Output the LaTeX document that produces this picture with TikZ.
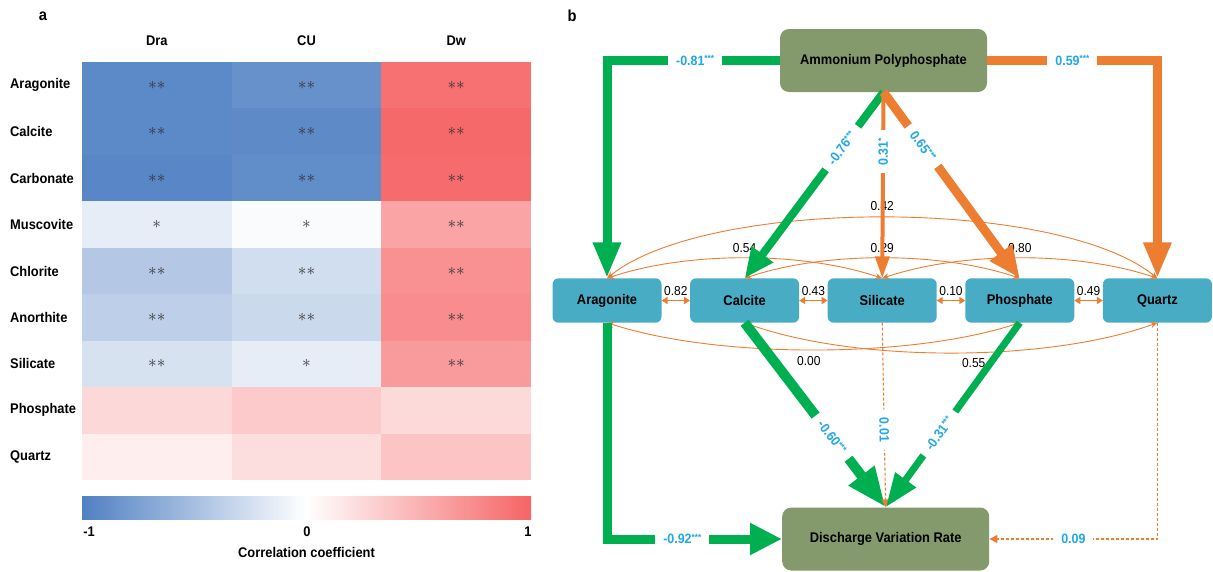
\documentclass[tikz,border=0pt]{standalone}
\usepackage{fontspec}
\setmainfont{Liberation Sans}[FakeStretch=0.92]
\usetikzlibrary{arrows.meta,positioning}
\definecolor{hmblue}{RGB}{80,128,195}
\definecolor{hmred}{RGB}{246,100,102}
\definecolor{boxteal}{RGB}{72,172,196}
\definecolor{boxolive}{RGB}{133,154,108}
\definecolor{pathgreen}{RGB}{0,176,80}
\definecolor{pathorange}{RGB}{237,125,49}
\definecolor{coefblue}{RGB}{32,168,230}
\newcommand{\signif}[1]{\raisebox{3.5pt}{\fontsize{9}{9}\selectfont #1}}

\begin{document}
\begin{tikzpicture}[x=1pt,y=-1pt]
	\tikzset{cell/.style={minimum width=149.7pt, minimum height=46.45pt, inner sep=0pt, text=black!80, font=\fontsize{18}{20}\selectfont},
		rowlab/.style={anchor=west, inner sep=0pt, font=\fontsize{14}{16}\selectfont\bfseries},
		collab/.style={inner sep=0pt, font=\fontsize{14}{16}\selectfont\bfseries},
		driver/.style={rounded corners=9pt, fill=boxolive, minimum width=207pt, minimum height=63pt, font=\fontsize{14}{16}\selectfont\bfseries},
		mineral/.style={rounded corners=6pt, fill=boxteal, minimum width=109pt, minimum height=44.4pt, inner sep=0pt, outer sep=0pt, font=\fontsize{14}{16}\selectfont\bfseries},
		coef/.style={fill=white, inner xsep=8pt, inner ysep=5pt, text=coefblue, font=\fontsize{13.5}{15}\selectfont\bfseries},
		numlab/.style={inner sep=0.5pt, font=\fontsize{13}{15}\selectfont},
		negpath/.style={draw=pathgreen, line width=9pt},
		pospath/.style={draw=pathorange, line width=9pt},
		dashpath/.style={draw=pathorange, line width=1.1pt, dash pattern=on 3pt off 2pt, -{Triangle[length=8pt,width=8pt]}},
		arcpath/.style={draw=pathorange, line width=0.9pt, {Stealth[length=7pt,width=6pt]}-{Stealth[length=7pt,width=6pt]}},
		pairarrow/.style={draw=pathorange, line width=1.6pt, {Triangle[length=6pt,width=7pt]}-{Triangle[length=6pt,width=7pt]}}}
	\useasboundingbox (0,0) rectangle (1213,571);

	% Panel a: heatmap
	\node[font=\fontsize{16}{18}\selectfont\bfseries] at (43,16) (pa) {a};
	\node[collab] at (156.8,41) (h-dra) {Dra};
	\node[collab] at (306.5,41) (h-cu) {CU};
	\node[collab] at (456.2,41) (h-dw) {Dw};

	\node[rowlab] at (10,85.2) (l-ara) {Aragonite};
	\node[rowlab] at (10,131.7) (l-cal) {Calcite};
	\node[rowlab] at (10,178.1) (l-car) {Carbonate};
	\node[rowlab] at (10,224.5) (l-mus) {Muscovite};
	\node[rowlab] at (10,271.0) (l-chl) {Chlorite};
	\node[rowlab] at (10,317.4) (l-ano) {Anorthite};
	\node[rowlab] at (10,363.9) (l-sil) {Silicate};
	\node[rowlab] at (10,410.3) (l-pho) {Phosphate};
	\node[rowlab] at (10,456.8) (l-qua) {Quartz};

	\node[cell, fill=hmblue!93!white] at (156.8,85.2) (ara-dra) {$\ast\ast$};
	\node[cell, fill=hmblue!87!white] at (306.5,85.2) (ara-cu) {$\ast\ast$};
	\node[cell, fill=hmred!92!white] at (456.2,85.2) (ara-dw) {$\ast\ast$};
	\node[cell, fill=hmblue!93!white] at (156.8,131.7) (cal-dra) {$\ast\ast$};
	\node[cell, fill=hmblue!92!white] at (306.5,131.7) (cal-cu) {$\ast\ast$};
	\node[cell, fill=hmred!97!white] at (456.2,131.7) (cal-dw) {$\ast\ast$};
	\node[cell, fill=hmblue!95!white] at (156.8,178.1) (car-dra) {$\ast\ast$};
	\node[cell, fill=hmblue!90!white] at (306.5,178.1) (car-cu) {$\ast\ast$};
	\node[cell, fill=hmred!95!white] at (456.2,178.1) (car-dw) {$\ast\ast$};
	\node[cell, fill=hmblue!14!white] at (156.8,224.5) (mus-dra) {$\ast$};
	\node[cell, fill=hmblue!3!white] at (306.5,224.5) (mus-cu) {$\ast$};
	\node[cell, fill=hmred!59!white] at (456.2,224.5) (mus-dw) {$\ast\ast$};
	\node[cell, fill=hmblue!43!white] at (156.8,271.0) (chl-dra) {$\ast\ast$};
	\node[cell, fill=hmblue!26!white] at (306.5,271.0) (chl-cu) {$\ast\ast$};
	\node[cell, fill=hmred!71!white] at (456.2,271.0) (chl-dw) {$\ast\ast$};
	\node[cell, fill=hmblue!37!white] at (156.8,317.4) (ano-dra) {$\ast\ast$};
	\node[cell, fill=hmblue!30!white] at (306.5,317.4) (ano-cu) {$\ast\ast$};
	\node[cell, fill=hmred!74!white] at (456.2,317.4) (ano-dw) {$\ast\ast$};
	\node[cell, fill=hmblue!23!white] at (156.8,363.9) (sil-dra) {$\ast\ast$};
	\node[cell, fill=hmblue!14!white] at (306.5,363.9) (sil-cu) {$\ast$};
	\node[cell, fill=hmred!65!white] at (456.2,363.9) (sil-dw) {$\ast\ast$};
	\node[cell, fill=hmred!25!white] at (156.8,410.3) (pho-dra) {};
	\node[cell, fill=hmred!34!white] at (306.5,410.3) (pho-cu) {};
	\node[cell, fill=hmred!24!white] at (456.2,410.3) (pho-dw) {};
	\node[cell, fill=hmred!11!white] at (156.8,456.8) (qua-dra) {};
	\node[cell, fill=hmred!21!white] at (306.5,456.8) (qua-cu) {};
	\node[cell, fill=hmred!38!white] at (456.2,456.8) (qua-dw) {};

	% Colour bar
	\shade[left color=hmblue, right color=white] (82,496) rectangle (306.5,519.5);
	\shade[left color=white, right color=hmred] (306.5,496) rectangle (531,519.5);
	\node[collab] at (89,532) (t-neg) {-1};
	\node[collab] at (307,532) (t-zero) {0};
	\node[collab] at (528,532) (t-pos) {1};
	\node[collab] at (306.5,552) (cb-title) {Correlation coefficient};

	% Panel b: path diagram
	\node[font=\fontsize{16}{18}\selectfont\bfseries] at (572,16) (pb) {b};
	\node[driver] at (883.5,60.5) (app) {Ammonium Polyphosphate};
	\node[driver] at (885.7,539) (dvr) {Discharge Variation Rate};
	\node[mineral] at (607,300.5) (arag) {Aragonite};
	\node[mineral, right=28.6pt of arag] (calc) {Calcite};
	\node[mineral, right=28.6pt of calc] (sil) {Silicate};
	\node[mineral, right=28.6pt of sil] (phos) {Phosphate};
	\node[mineral, right=28.6pt of phos] (quartz) {Quartz};

	% Correlations among minerals
	\draw[arcpath] (arag.north) .. controls +(100,-81) and +(-100,-81) .. node[numlab, above=6pt] (r-arag-quartz) {0.42} (quartz.north);
	\draw[arcpath] (arag.north) .. controls +(80,-27) and +(-80,-27) .. node[numlab, above=4pt] (r-arag-sil) {0.54} (sil.north);
	\draw[arcpath] (calc.north) .. controls +(80,-27) and +(-80,-27) .. node[numlab, above=4pt] (r-calc-phos) {0.29} (phos.north);
	\draw[arcpath] (sil.north) .. controls +(80,-27) and +(-80,-27) .. node[numlab, above=4pt] (r-sil-quartz) {0.80} (quartz.north);
	\draw[arcpath] (arag.south) .. controls +(110,36) and +(-110,36) .. node[numlab, below=6pt, pos=0.49] (r-arag-phos) {0.00} (phos.south);
	\draw[arcpath] (calc.south) .. controls +(110,40) and +(-110,40) .. node[numlab, below=5pt, pos=0.55] (r-calc-quartz) {0.55} (quartz.south);
	\draw[pairarrow] (arag.east) -- node[numlab, above=4pt] (r-arag-calc) {0.82} (calc.west);
	\draw[pairarrow] (calc.east) -- node[numlab, above=4pt] (r-calc-sil) {0.43} (sil.west);
	\draw[pairarrow] (sil.east) -- node[numlab, above=4pt] (r-sil-phos) {0.10} (phos.west);
	\draw[pairarrow] (phos.east) -- node[numlab, above=4pt] (r-phos-quartz) {0.49} (quartz.west);

	% Ammonium polyphosphate to minerals
	\draw[negpath, -{Triangle[length=36pt,width=26pt]}] (app.west) -| node[coef, pos=0.245] (c-app-arag) {-0.81\signif{***}} (arag.north);
	\draw[pospath, -{Triangle[length=36pt,width=26pt]}] (app.east) -| node[coef, pos=0.25] (c-app-quartz) {0.59\signif{***}} (quartz.north);
	\draw[negpath, line width=8pt, -{Triangle[length=30pt,width=25pt]}] (app.south) -- node[coef, sloped, pos=0.3] (c-app-calc) {-0.76\signif{***}} (calc.north);
	\draw[pospath, line width=4pt, -{Triangle[length=22pt,width=14pt]}] (app.south) -- node[coef, rotate=90, pos=0.32] (c-app-sil) {0.31\signif{*}} (sil.north);
	\draw[pospath, -{Triangle[length=32pt,width=26pt]}] (app.south) -- node[coef, sloped, pos=0.29] (c-app-phos) {0.65\signif{***}} (phos.north);

	% Minerals to discharge variation rate
	\draw[negpath, -{Triangle[length=32pt,width=30pt]}] (arag.south) |- node[coef, pos=0.715] (c-arag-dvr) {-0.92\signif{***}} (dvr.west);
	\draw[negpath, line width=10pt, -{Triangle[length=40pt,width=30pt]}] (calc.south) -- node[coef, sloped, pos=0.62] (c-calc-dvr) {-0.60\signif{***}} (dvr.north);
	\draw[dashpath] (sil.south) -- node[coef, sloped, pos=0.58] (c-sil-dvr) {0.01} (dvr.north);
	\draw[negpath, line width=7pt, -{Triangle[length=34pt,width=24pt]}] (phos.south) -- node[coef, sloped, pos=0.6] (c-phos-dvr) {-0.31\signif{***}} (dvr.north);
	\draw[dashpath] (quartz.south) |- node[coef, pos=0.75] (c-quartz-dvr) {0.09} (dvr.east);
\end{tikzpicture}
\end{document}
